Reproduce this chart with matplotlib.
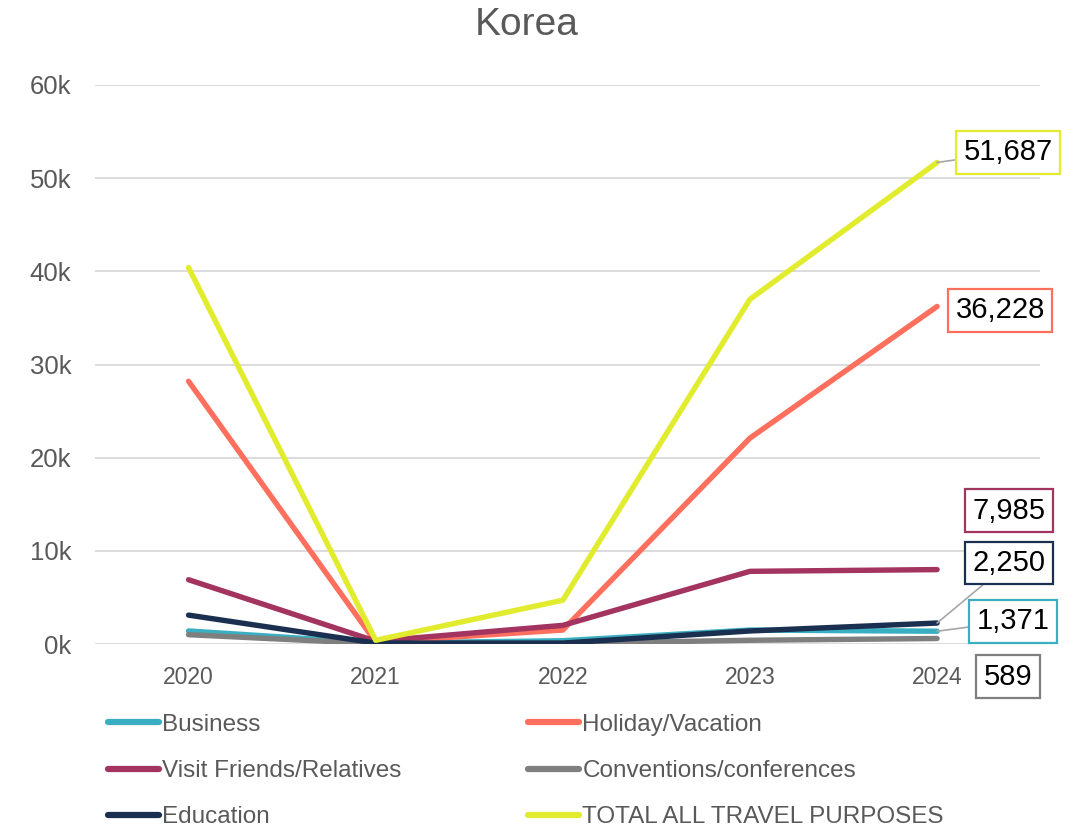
import matplotlib.pyplot as plt
from matplotlib.lines import Line2D

plt.rcParams['font.family'] = ['Liberation Sans', 'DejaVu Sans']

years = ['2020', '2021', '2022', '2023', '2024']
business = [1400, 100, 350, 1500, 1371]
holiday = [28200, 200, 1500, 22100, 36228]
vfr = [6900, 300, 2000, 7800, 7985]
conventions = [1000, 30, 60, 400, 589]
education = [3100, 100, 100, 1400, 2250]
total = [40400, 400, 4700, 37000, 51687]

series = [
    ('Business', business, '#3AAFC2'),
    ('Holiday/Vacation', holiday, '#FF6F5E'),
    ('Visit Friends/Relatives', vfr, '#A3335F'),
    ('Conventions/conferences', conventions, '#7F7F7F'),
    ('Education', education, '#1B3050'),
    ('TOTAL ALL TRAVEL PURPOSES', total, '#E2EC2E'),
]

# label offsets in pixels from the last point
offsets = {
    'Business': (76, 10),
    'Holiday/Vacation': (63, -4),
    'Visit Friends/Relatives': (72, 59),
    'Conventions/conferences': (71, -38),
    'Education': (72, 60),
    'TOTAL ALL TRAVEL PURPOSES': (71, 10),
}
leaders = {'Business', 'Education', 'TOTAL ALL TRAVEL PURPOSES'}

fig = plt.figure(figsize=(10.76, 8.33), dpi=100)
ax = fig.add_axes([95 / 1076, 189 / 833, 945 / 1076, 559 / 833])

x = range(len(years))
lines = {}
for name, vals, color in series:
    ln, = ax.plot(x, vals, color=color, lw=3.9, solid_capstyle='round',
                  solid_joinstyle='round', label=name)
    lines[name] = ln
    txt = f'{vals[-1]:,}'
    ap = None
    if name in leaders:
        ap = dict(arrowstyle='-', color='#A6A6A6', lw=1.2, shrinkA=0, shrinkB=0)
    ax.annotate(txt, (4, vals[-1]), xytext=offsets[name],
                textcoords='offset pixels', ha='center', va='center',
                fontsize=21, color='black', annotation_clip=False,
                bbox=dict(boxstyle='square,pad=0.25', fc='white', ec=color, lw=1.6),
                arrowprops=ap, zorder=5)

ax.set_xlim(-0.5, 4.55)
ax.set_ylim(0, 60000)
ax.set_yticks(range(0, 60001, 10000))
ax.set_yticklabels([f'{v // 1000}k' for v in range(0, 60001, 10000)])
ax.set_xticks(list(x))
ax.set_xticklabels(years)
ax.grid(axis='y', color='#D9D9D9', lw=1.3)
ax.set_axisbelow(True)
for s in ax.spines.values():
    s.set_visible(False)
ax.tick_params(length=0)
ax.tick_params(axis='y', labelsize=18.5, labelcolor='#595959', pad=17)
ax.tick_params(axis='x', labelsize=16.5, labelcolor='#595959', pad=16)

fig.text(527 / 1076, 0.970, 'Korea', ha='center', va='center', fontsize=28, color='#595959')

col1 = ['Business', 'Visit Friends/Relatives', 'Education']
col2 = ['Holiday/Vacation', 'Conventions/conferences', 'TOTAL ALL TRAVEL PURPOSES']
for names, x0 in [(col1, 98 / 1076), (col2, 518 / 1076)]:
    handles = [Line2D([], [], color=lines[n].get_color(), lw=4.5, solid_capstyle='round')
               for n in names]
    fig.legend(handles, names, loc='upper left', bbox_to_anchor=(x0, 1 - 704 / 833),
               frameon=False, handlelength=2.1, handletextpad=0.15,
               labelspacing=1.0, borderaxespad=0, labelcolor='#595959', fontsize=17.5)

fig.savefig('out.png', dpi=100)
